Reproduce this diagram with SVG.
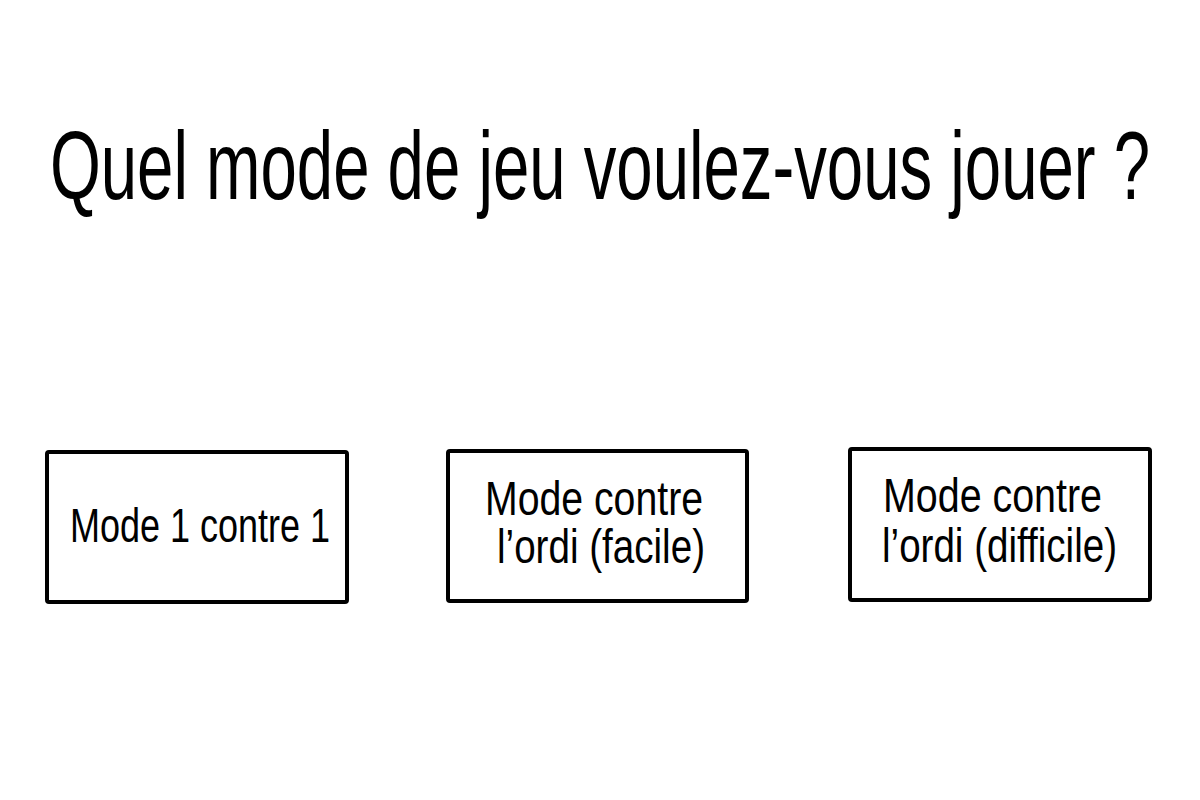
<svg xmlns="http://www.w3.org/2000/svg" width="1200" height="800" viewBox="0 0 1200 800">
<style>
.box{fill:#fff;stroke:#000;stroke-width:4;}
.t{font-family:"Liberation Sans",Arial,sans-serif;fill:#000;}
.lbl{font-size:48px;}
</style>
<rect width="1200" height="800" fill="#fff"/>
<g id="title">
<text class="t" x="50" y="199" font-size="96" textLength="1100" lengthAdjust="spacingAndGlyphs">Quel mode de jeu voulez-vous jouer ?</text>
</g>
<g id="node1">
<rect class="box" x="47" y="452" width="300" height="150" rx="2"/>
<text class="t lbl" x="70" y="542" textLength="260" lengthAdjust="spacingAndGlyphs">Mode 1 contre 1</text>
</g>
<g id="node2">
<rect class="box" x="448" y="451" width="299" height="150" rx="2"/>
<text class="t lbl" x="485" y="515" textLength="218" lengthAdjust="spacingAndGlyphs">Mode contre</text>
<text class="t lbl" x="497" y="563" textLength="208" lengthAdjust="spacingAndGlyphs">l’ordi (facile)</text>
</g>
<g id="node3">
<rect class="box" x="850" y="449" width="300" height="151" rx="2"/>
<text class="t lbl" x="883" y="512" textLength="219" lengthAdjust="spacingAndGlyphs">Mode contre</text>
<text class="t lbl" x="882" y="562" textLength="235" lengthAdjust="spacingAndGlyphs">l’ordi (difficile)</text>
</g>
<g id="connectors"></g>
</svg>
